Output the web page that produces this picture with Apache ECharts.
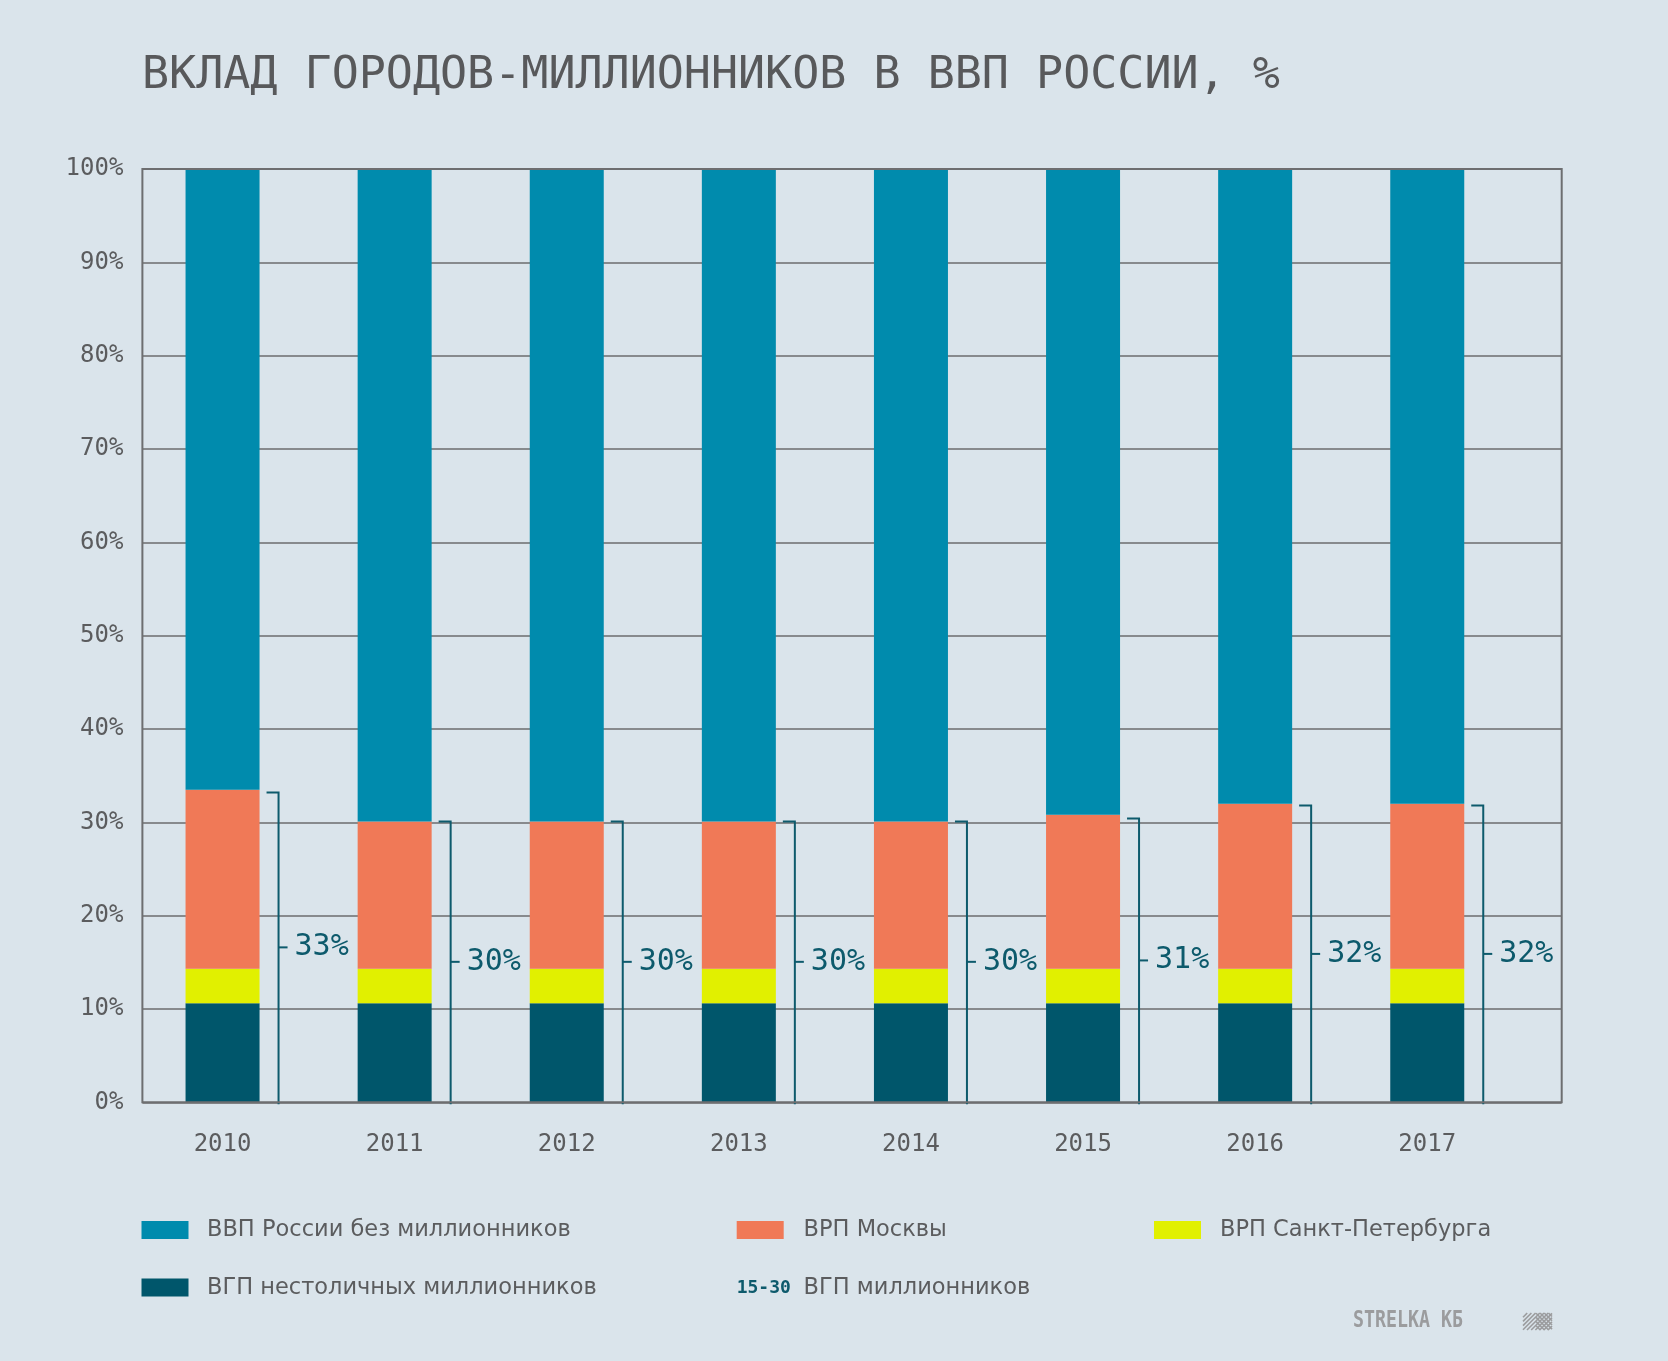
<!DOCTYPE html>
<html>
<head>
<meta charset="utf-8">
<script src="https://cdn.jsdelivr.net/npm/echarts@6/dist/echarts.min.js"></script>
<style>
html,body{margin:0;padding:0;background:#dae4eb;}
#chart{width:1668px;height:1361px;}
</style>
</head>
<body>
<div id="chart"></div>
<script>
// ---- data ----
const years = ['2010', '2011', '2012', '2013', '2014', '2015', '2016', '2017'];
const nonCapital = [10.6, 10.6, 10.6, 10.6, 10.6, 10.6, 10.6, 10.6];   // ВГП нестоличных миллионников
const spb = [3.7, 3.7, 3.7, 3.7, 3.7, 3.7, 3.7, 3.7];                  // ВРП Санкт-Петербурга
const moscow = [19.2, 15.8, 15.8, 15.8, 15.8, 16.5, 17.7, 17.7];       // ВРП Москвы
const restOfRussia = [66.5, 69.9, 69.9, 69.9, 69.9, 69.2, 68.0, 68.0]; // ВВП России без миллионников
const bracketTop = [33.2, 30.1, 30.1, 30.1, 30.1, 30.4, 31.8, 31.8];   // ВГП миллионников (bracket height)
const bracketLabels = ['33%', '30%', '30%', '30%', '30%', '31%', '32%', '32%'];

const seriesNames = {
  rest: 'ВВП России без миллионников',
  moscow: 'ВРП Москвы',
  spb: 'ВРП Санкт-Петербурга',
  nonCapital: 'ВГП нестоличных миллионников',
  bracket: 'ВГП миллионников',
  bracketKey: '15-30'
};

// ---- style ----
const C = {
  bg: '#dae4eb',
  blue: '#008bad',
  orange: '#f07957',
  yellow: '#e1f000',
  navy: '#00566b',
  teal: '#0d5a6c',
  grid: '#6b6c6e',
  text: '#5b5c5e',
  title: '#58595b',
  logo: '#9b9c9e'
};
const MONO = '"DejaVu Sans Mono", monospace';
const SANS = '"DejaVu Sans", sans-serif';

const chart = echarts.init(document.getElementById('chart'), null, {renderer: 'canvas'});

function legendItem(x, y, color, label, textX) {
  return [
    {type: 'rect', shape: {x: x, y: y, width: 47, height: 18}, style: {fill: color}},
    {type: 'text', x: textX, y: y + 9.5, style: {text: label, font: '22.5px ' + SANS, fill: C.text, verticalAlign: 'middle'}}
  ];
}

// hatched logo icon
function hatch(x0, y0, w, h) {
  const els = [];
  const x1 = x0 + w, y1 = y0 + h;
  for (let t = -h; t < w; t += 4.2) {
    const s0 = Math.max(0, -t), s1 = Math.min(h, w - t);
    if (s1 <= s0) continue;
    els.push({type: 'line', shape: {x1: x0 + t + s0, y1: y1 - s0, x2: x0 + t + s1, y2: y1 - s1}, style: {stroke: C.logo, lineWidth: 1.6}});
  }
  const xr = x0 + w * 0.45;
  const wr = x1 - xr;
  for (let t = 0; t < wr + h; t += 4.2) {
    const s0 = Math.max(0, t - wr), s1 = Math.min(h, t);
    if (s1 <= s0) continue;
    els.push({type: 'line', shape: {x1: xr + t - s0, y1: y1 - s0, x2: xr + t - s1, y2: y1 - s1}, style: {stroke: C.logo, lineWidth: 1.6}});
  }
  return els;
}

const gridTop = 169, gridH = 933.3;

const option = {
  backgroundColor: C.bg,
  animation: false,
  grid: [
    {left: 142.4, top: gridTop, width: 1419.3, height: gridH, show: true, z: 10, borderColor: '#6d6e70', borderWidth: 2, backgroundColor: 'transparent'},
    {left: 136.5, top: gridTop, width: 1376.8, height: gridH}
  ],
  xAxis: [
    {type: 'value', gridIndex: 0, min: 0, max: 1, show: false},
    {type: 'category', gridIndex: 1, data: years,
      axisLine: {show: false}, axisTick: {show: false},
      axisLabel: {margin: 30, fontFamily: MONO, fontSize: 24, color: C.text}}
  ],
  yAxis: [
    {type: 'value', gridIndex: 0, min: 0, max: 100, interval: 10,
      axisLine: {show: false}, axisTick: {show: false},
      axisLabel: {margin: 19, formatter: '{value}%', fontFamily: MONO, fontSize: 24, color: C.text},
      splitLine: {show: true, lineStyle: {color: C.grid, width: 1.6}}},
    {type: 'value', gridIndex: 1, min: 0, max: 100, show: false, splitLine: {show: false}}
  ],
  series: [
    {name: seriesNames.nonCapital, type: 'bar', stack: 'gdp', xAxisIndex: 1, yAxisIndex: 1, barWidth: 74, data: nonCapital, itemStyle: {color: C.navy}},
    {name: seriesNames.spb, type: 'bar', stack: 'gdp', xAxisIndex: 1, yAxisIndex: 1, barWidth: 74, data: spb, itemStyle: {color: C.yellow}},
    {name: seriesNames.moscow, type: 'bar', stack: 'gdp', xAxisIndex: 1, yAxisIndex: 1, barWidth: 74, data: moscow, itemStyle: {color: C.orange}},
    {name: seriesNames.rest, type: 'bar', stack: 'gdp', xAxisIndex: 1, yAxisIndex: 1, barWidth: 74, data: restOfRussia, itemStyle: {color: C.blue}},
    {name: seriesNames.bracket, type: 'custom', xAxisIndex: 1, yAxisIndex: 1, z: 5,
      data: bracketTop.map((v, i) => [i, v]),
      renderItem: function (params, api) {
        const idx = api.value(0), top = api.value(1);
        const pTop = api.coord([idx, top]);
        const pBase = api.coord([idx, 0]);
        const pMid = api.coord([idx, top / 2]);
        const x = pTop[0] + 56;
        return {type: 'group', children: [
          {type: 'polyline', shape: {points: [[x - 12, pTop[1]], [x, pTop[1]], [x, pBase[1] + 2]]}, style: {stroke: C.teal, lineWidth: 2, fill: null}},
          {type: 'line', shape: {x1: x, y1: pMid[1], x2: x + 9, y2: pMid[1]}, style: {stroke: C.teal, lineWidth: 2}},
          {type: 'text', x: x + 16, y: pMid[1], style: {text: bracketLabels[params.dataIndex], font: '30px ' + MONO, fill: C.teal, verticalAlign: 'middle'}}
        ]};
      }
    }
  ],
  graphic: [
    {type: 'text', x: 142, y: 76.5, style: {text: 'ВКЛАД ГОРОДОВ-МИЛЛИОННИКОВ В ВВП РОССИИ, %', font: '45px ' + MONO, fill: C.title, verticalAlign: 'middle'}},
    ...legendItem(141.5, 1221, C.blue, seriesNames.rest, 207),
    ...legendItem(736.7, 1221, C.orange, seriesNames.moscow, 803.6),
    ...legendItem(1154, 1221, C.yellow, seriesNames.spb, 1220),
    ...legendItem(141.5, 1278.5, C.navy, seriesNames.nonCapital, 207),
    {type: 'text', x: 736.7, y: 1288, style: {text: seriesNames.bracketKey, font: 'bold 18px ' + MONO, fill: C.teal, verticalAlign: 'middle'}},
    {type: 'text', x: 803.6, y: 1288, style: {text: seriesNames.bracket, font: '22.5px ' + SANS, fill: C.text, verticalAlign: 'middle'}},
    {type: 'text', x: 1353, y: 1321, scaleY: 1.25, originX: 0, originY: 0, style: {text: 'STRELKA КБ', font: 'bold 18.3px ' + MONO, fill: C.logo, verticalAlign: 'middle'}},
    ...hatch(1523, 1313, 29, 17)
  ]
};
chart.setOption(option);
</script>
</body>
</html>
